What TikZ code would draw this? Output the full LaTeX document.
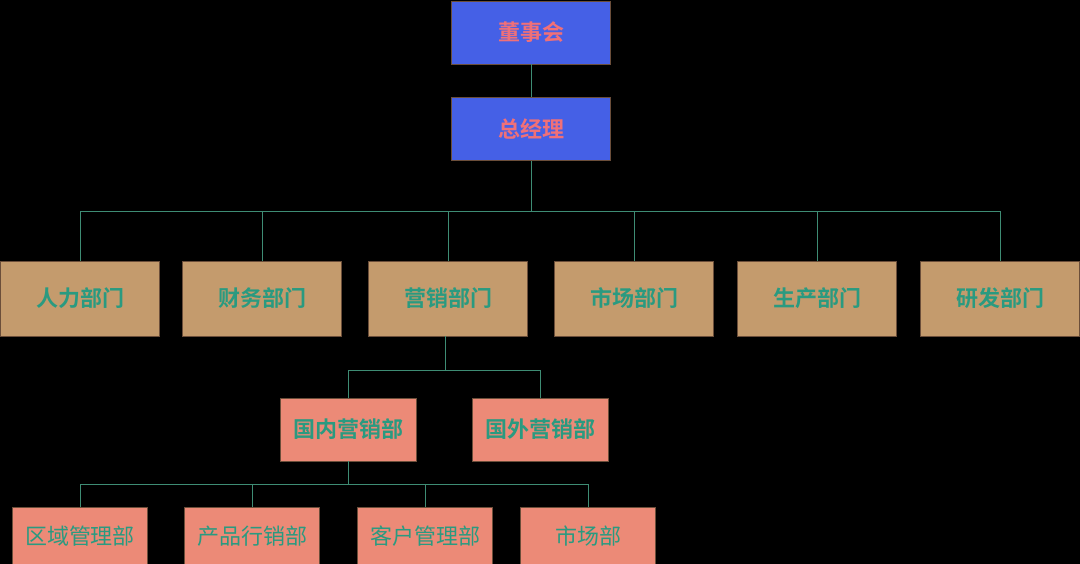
\documentclass[tikz,border=0pt]{standalone}
\usepackage{fontspec}
\usepackage{xcolor}
\setmainfont{Noto Sans CJK SC}
\newfontfamily\cjkbold{Noto Sans CJK SC Bold}
\definecolor{topbox}{HTML}{4560E6}
\definecolor{toptext}{HTML}{F07078}
\definecolor{deptbox}{HTML}{C49B6D}
\definecolor{subbox}{HTML}{EC8A77}
\definecolor{labeltext}{HTML}{2A9A80}
\definecolor{boxline}{HTML}{6B4E3A}
\definecolor{connline}{HTML}{3E8C74}

\begin{document}
\begin{tikzpicture}[
    x=1pt, y=-1pt,
    box/.style={draw=boxline, line width=0.6pt, inner sep=0pt, font=\fontsize{22}{26}\selectfont},
    topnode/.style={box, fill=topbox, text=toptext, minimum width=159, minimum height=63, font=\cjkbold\fontsize{22}{26}\selectfont},
    deptnode/.style={box, fill=deptbox, text=labeltext, minimum width=159, minimum height=75, font=\cjkbold\fontsize{22}{26}\selectfont},
    subnode/.style={box, fill=subbox, text=labeltext, minimum width=136, minimum height=63, font=\cjkbold\fontsize{22}{26}\selectfont},
    leafnode/.style={box, fill=subbox, text=labeltext, minimum width=135, minimum height=58},
    conn/.style={draw=connline, line width=0.9pt}
  ]
  \useasboundingbox[fill=black] (0,0) rectangle (1080,564);

  % top
  \node[topnode] (board) at (531,32.5) {董事会};
  \node[topnode] (ceo) at (531,129) {总经理};

  % departments
  \node[deptnode] (hr) at (80,298.5) {人力部门};
  \node[deptnode] (fin) at (262,298.5) {财务部门};
  \node[deptnode] (sales) at (448,298.5) {营销部门};
  \node[deptnode] (mkt) at (634,298.5) {市场部门};
  \node[deptnode] (prod) at (817,298.5) {生产部门};
  \node[deptnode] (rd) at (1000,298.5) {研发部门};

  % sales units
  \node[subnode] (dom) at (348,429.5) {国内营销部};
  \node[subnode] (intl) at (540,429.5) {国外营销部};

  % domestic units
  \node[leafnode] (area) at (80,536) {区域管理部};
  \node[leafnode] (prodmk) at (252,536) {产品行销部};
  \node[leafnode] (cust) at (425,536) {客户管理部};
  \node[leafnode] (market) at (588,536) {市场部};

  \coordinate (busA) at (531,211);
  \coordinate (busB) at (445,370);
  \coordinate (busC) at (348,484);

  \draw[conn] (board) -- (ceo);
  \draw[conn] (ceo) -- (busA);
  \foreach \d in {hr,fin,sales,mkt,prod,rd}
    \draw[conn] (busA) -| (\d.north);
  \draw[conn] (sales.south -| busB) -- (busB);
  \foreach \s in {dom,intl}
    \draw[conn] (busB) -| (\s.north);
  \draw[conn] (dom) -- (busC);
  \foreach \l in {area,prodmk,cust,market}
    \draw[conn] (busC) -| (\l.north);
\end{tikzpicture}
\end{document}
